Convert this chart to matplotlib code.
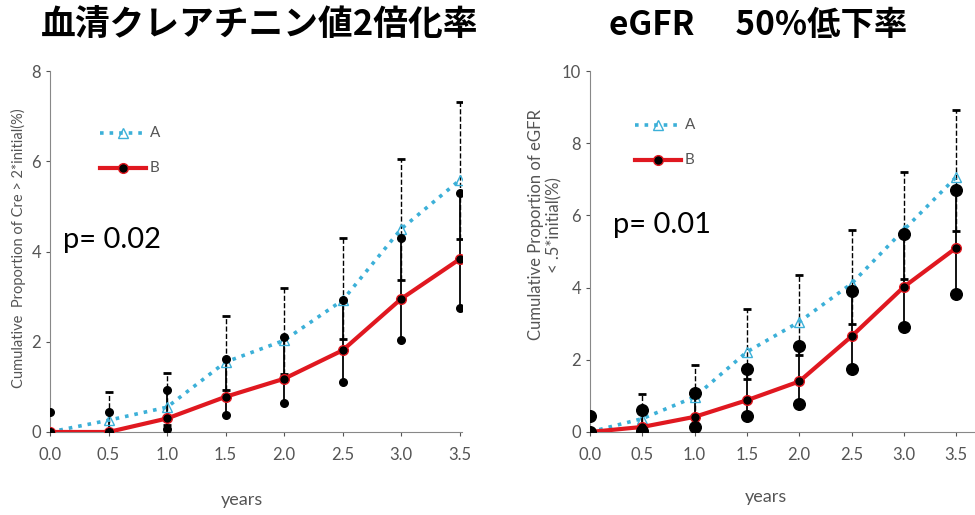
import matplotlib.pyplot as plt
import numpy as np

plt.rcParams["font.family"] = ["Lato", "DejaVu Sans"]

years = [0.0, 0.5, 1.0, 1.5, 2.0, 2.5, 3.0, 3.5]

# left panel: serum creatinine doubling
cre_a = [0.0, 0.26, 0.55, 1.55, 2.03, 2.92, 4.50, 5.58]
cre_a_hi = [0.0, 0.89, 1.31, 2.56, 3.19, 4.30, 6.06, 7.31]
cre_a_lo = [0.0, 0.05, 0.15, 0.93, 1.29, 2.07, 3.36, 4.28]
cre_b = [0.0, 0.0, 0.30, 0.78, 1.18, 1.81, 2.95, 3.83]
cre_b_hi = [0.44, 0.44, 0.92, 1.62, 2.10, 2.92, 4.30, 5.29]
cre_b_lo = [0.0, 0.0, 0.07, 0.37, 0.64, 1.11, 2.03, 2.75]

# right panel: eGFR 50% decline
egfr_a = [0.0, 0.37, 0.97, 2.22, 3.05, 4.11, 5.60, 7.06]
egfr_a_hi = [0.0, 1.06, 1.85, 3.42, 4.34, 5.59, 7.20, 8.91]
egfr_a_lo = [0.0, 0.05, 0.20, 1.48, 2.12, 3.00, 4.25, 5.57]
egfr_b = [0.0, 0.14, 0.42, 0.88, 1.40, 2.65, 4.02, 5.10]
egfr_b_hi = [0.44, 0.62, 1.08, 1.75, 2.38, 3.90, 5.49, 6.71]
egfr_b_lo = [0.0, 0.03, 0.14, 0.43, 0.78, 1.75, 2.91, 3.83]

COLOR_A = "#3cb0d8"
COLOR_B = "#e01820"
GRAY = "#555555"


def draw_panel(ax, a, a_lo, a_hi, b, b_lo, b_hi, ymax, xmax, dot):
    x = np.asarray(years)
    a = np.asarray(a)
    b = np.asarray(b)
    eb = ax.errorbar(x, a, yerr=[a - np.asarray(a_lo), np.asarray(a_hi) - a], fmt="none",
                     ecolor="black", elinewidth=1.0, capsize=3, capthick=2, zorder=2)
    eb.lines[2][0].set_linestyle("--")
    ax.vlines(x, b_lo, b_hi, color="black", linewidth=1.3, zorder=2)
    ax.scatter(x, b_hi, s=dot, color="black", zorder=5)
    ax.scatter(x, b_lo, s=dot, color="black", zorder=5)
    ax.plot(x, a, linestyle=":", linewidth=2.6, color=COLOR_A, marker="^", markersize=7,
            markerfacecolor="none", markeredgecolor=COLOR_A, zorder=3)
    ax.plot(x, b, linestyle="-", linewidth=3, color=COLOR_B, marker="o", markersize=7,
            markerfacecolor="black", markeredgecolor=COLOR_B, zorder=4)
    ax.set_xlim(0, xmax)
    ax.set_ylim(0, ymax)
    ax.set_xticks(years)
    ax.set_xticklabels([f"{v:.1f}" for v in years])
    ax.set_yticks(np.arange(0, ymax + 1, 2))
    for side in ("top", "right"):
        ax.spines[side].set_visible(False)
    for side in ("left", "bottom"):
        ax.spines[side].set_color("#888888")
    ax.tick_params(colors=GRAY, labelsize=12, length=3, width=0.8)
    ax.tick_params(axis="x", pad=8)
    for spine in ax.spines.values():
        spine.set_clip_on(False)


fig = plt.figure(figsize=(9.75, 5.15), dpi=100)

ax1 = fig.add_axes([50 / 975, 1 - 432 / 515, 412 / 975, 361 / 515])
draw_panel(ax1, cre_a, cre_a_lo, cre_a_hi, cre_b, cre_b_lo, cre_b_hi, 8, 3.52, 30)
ax2 = fig.add_axes([590 / 975, 1 - 432 / 515, 385 / 975, 361 / 515])
draw_panel(ax2, egfr_a, egfr_a_lo, egfr_a_hi, egfr_b, egfr_b_lo, egfr_b_hi, 10, 3.68, 70)

# legends drawn by hand in figure coordinates
for lx, ly, dy in [(100, 133, 35), (635, 125, 35)]:
    fig.add_artist(plt.Line2D([lx / 975, (lx + 46) / 975], [1 - ly / 515] * 2,
                              linestyle=":", linewidth=2.6, color=COLOR_A))
    fig.add_artist(plt.Line2D([(lx + 23) / 975], [1 - ly / 515], marker="^", markersize=7,
                              markerfacecolor="none", markeredgecolor=COLOR_A))
    fig.text((lx + 50) / 975, 1 - ly / 515, "A", fontsize=11, color=GRAY, va="center")
    fig.add_artist(plt.Line2D([lx / 975, (lx + 46) / 975], [1 - (ly + dy) / 515] * 2,
                              linewidth=3, color=COLOR_B))
    fig.add_artist(plt.Line2D([(lx + 23) / 975], [1 - (ly + dy) / 515], marker="o", markersize=7,
                              markerfacecolor="black", markeredgecolor=COLOR_B))
    fig.text((lx + 50) / 975, 1 - (ly + dy) / 515, "B", fontsize=11, color=GRAY, va="center")

fig.text(63 / 975, 1 - 240 / 515, "p= 0.02", fontsize=21, color="black", va="center")
fig.text(613 / 975, 1 - 225 / 515, "p= 0.01", fontsize=21, color="black", va="center")

title_font = ["Noto Sans CJK JP", "DejaVu Sans"]
fig.text(260 / 975, 1 - 25 / 515, "血清クレアチニン値2倍化率", fontsize=25, fontweight="bold",
         ha="center", va="center", family=title_font)
fig.text(758 / 975, 1 - 25 / 515, "eGFR\u3000 50%低下率", fontsize=24, fontweight="bold",
         ha="center", va="center", family=title_font)

fig.text(18 / 975, 1 - 248 / 515, "Cumulative  Proportion of Cre > 2*initial(%)", fontsize=10.5,
         color=GRAY, rotation=90, ha="center", va="center")
fig.text(545 / 975, 1 - 225 / 515, "Cumulative Proportion of eGFR\n< .5*initial(%)", fontsize=12,
         color=GRAY, rotation=90, ha="center", va="center", linespacing=1.2)

fig.text(242 / 975, 1 - 500 / 515, "years", fontsize=13, color=GRAY, ha="center", va="center")
fig.text(766 / 975, 1 - 497 / 515, "years", fontsize=13, color=GRAY, ha="center", va="center")

fig.savefig("out.png", dpi=100)
